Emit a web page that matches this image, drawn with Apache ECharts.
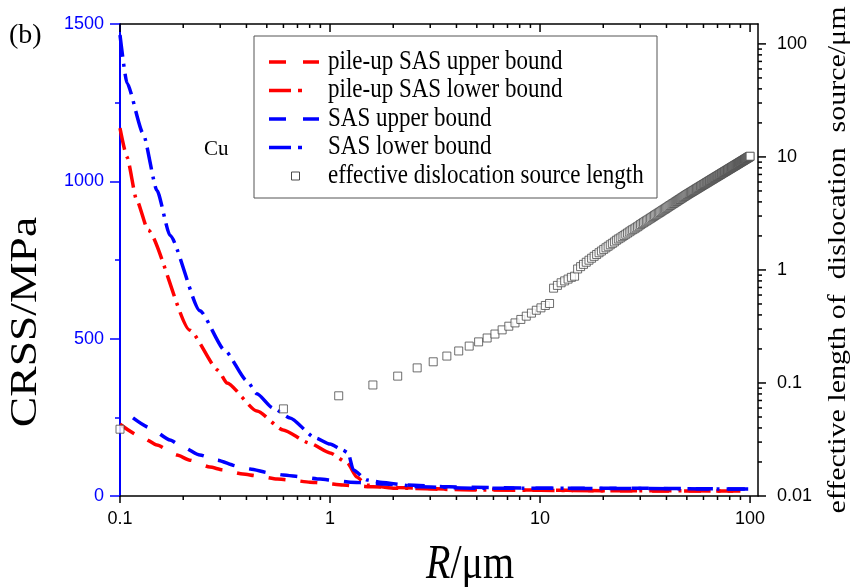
<!DOCTYPE html>
<html>
<head>
<meta charset="utf-8">
<script src="https://cdn.jsdelivr.net/npm/echarts@6/dist/echarts.min.js"></script>
<style>
  html, body { margin: 0; padding: 0; background: #fff; }
  #chart { width: 854px; height: 587px; }
</style>
</head>
<body>
<div id="chart"></div>
<script>
// CRSS (MPa) against R (µm) for Cu, four bounds
const pileUpUpperR    = [0.1, 0.127, 0.15, 0.187, 0.215, 0.268, 0.309, 0.385, 0.449, 0.56, 0.645, 0.802, 0.925, 1.15, 1.34, 1.6, 2.1, 3.7, 9.2, 20, 40, 90];
const pileUpUpperCRSS = [228, 187, 162, 130, 114, 92, 83, 70, 64, 54, 51, 44, 41, 35, 32, 29, 27, 22, 19, 17, 16, 16];

const pileUpLowerR    = [0.1, 0.108, 0.12, 0.136, 0.215, 0.293, 0.323, 0.449, 0.598, 0.8, 1.0, 1.21, 1.34, 1.5, 2.0, 5, 20, 90];
const pileUpLowerCRSS = [1169, 1077, 941, 845, 527, 400, 359, 270, 210, 168, 137, 105, 60, 35, 25, 19, 17, 16];

const sasUpperR    = [0.1153, 0.139, 0.173, 0.199, 0.24, 0.29, 0.361, 0.416, 0.518, 0.598, 0.744, 0.896, 1.08, 1.25, 1.55, 1.79, 2.3, 3.7, 9.2, 19, 96];
const sasUpperCRSS = [248, 216, 178, 156, 130, 114, 95, 86, 73, 67, 60, 54, 48, 44, 41, 38, 35, 29, 25, 25, 22];

const sasLowerR    = [0.1, 0.108, 0.1287, 0.15, 0.173, 0.24, 0.316, 0.402, 0.449, 0.534, 0.645, 0.85, 1.0, 1.15, 1.22, 1.29, 1.5, 1.73, 2.68, 5, 20, 98];
const sasLowerCRSS = [1465, 1312, 1153, 971, 828, 589, 462, 366, 325, 280, 248, 185, 165, 146, 137, 83, 51, 44, 29, 25, 24, 22];

// effective dislocation source length (µm) on the right-hand axis
const effR = [
  0.1, 0.6, 1.1, 1.6, 2.1, 2.6, 3.1, 3.6, 4.1, 4.6,
  5.1, 5.6, 6.1, 6.6, 7.1, 7.6, 8.1, 8.6, 9.1, 9.6,
  10.1, 10.6, 11.1, 11.6, 12.1, 12.6, 13.1, 13.6, 14.1, 14.6,
  15.1, 15.6, 16.1, 16.6, 17.1, 17.6, 18.1, 18.6, 19.1, 19.6,
  20.1, 20.6, 21.1, 21.6, 22.1, 22.6, 23.1, 23.6, 24.1, 24.6,
  25.1, 25.6, 26.1, 26.6, 27.1, 27.6, 28.1, 28.6, 29.1, 29.6,
  30.1, 30.6, 31.1, 31.6, 32.1, 32.6, 33.1, 33.6, 34.1, 34.6,
  35.1, 35.6, 36.1, 36.6, 37.1, 37.6, 38.1, 38.6, 39.1, 39.6,
  40.1, 40.6, 41.1, 41.6, 42.1, 42.6, 43.1, 43.6, 44.1, 44.6,
  45.1, 45.6, 46.1, 46.6, 47.1, 47.6, 48.1, 48.6, 49.1, 49.6,
  50.1, 50.6, 51.1, 51.6, 52.1, 52.6, 53.1, 53.6, 54.1, 54.6,
  55.1, 55.6, 56.1, 56.6, 57.1, 57.6, 58.1, 58.6, 59.1, 59.6,
  60.1, 60.6, 61.1, 61.6, 62.1, 62.6, 63.1, 63.6, 64.1, 64.6,
  65.1, 65.6, 66.1, 66.6, 67.1, 67.6, 68.1, 68.6, 69.1, 69.6,
  70.1, 70.6, 71.1, 71.6, 72.1, 72.6, 73.1, 73.6, 74.1, 74.6,
  75.1, 75.6, 76.1, 76.6, 77.1, 77.6, 78.1, 78.6, 79.1, 79.6,
  80.1, 80.6, 81.1, 81.6, 82.1, 82.6, 83.1, 83.6, 84.1, 84.6,
  85.1, 85.6, 86.1, 86.6, 87.1, 87.6, 88.1, 88.6, 89.1, 89.6,
  90.1, 90.6, 91.1, 91.6, 92.1, 92.6, 93.1, 93.6, 94.1, 94.6,
  95.1, 95.6, 96.1, 96.6, 97.1, 97.6, 98.1, 98.6, 99.1, 99.6,
  100.1
];
const effL = [
  0.039, 0.059, 0.077, 0.096, 0.115, 0.136, 0.154, 0.173, 0.192, 0.212,
  0.231, 0.250, 0.271, 0.295, 0.318, 0.340, 0.365, 0.390, 0.415, 0.440,
  0.462, 0.485, 0.505, 0.690, 0.730, 0.770, 0.800, 0.830, 0.860, 0.880,
  1.02, 1.07, 1.12, 1.17, 1.22, 1.27, 1.32, 1.37, 1.42, 1.47,
  1.52, 1.57, 1.62, 1.67, 1.72, 1.77, 1.83, 1.88, 1.92, 1.97,
  2.02, 2.07, 2.12, 2.17, 2.22, 2.27, 2.31, 2.36, 2.41, 2.46,
  2.52, 2.57, 2.62, 2.67, 2.72, 2.77, 2.82, 2.87, 2.92, 2.97,
  3.03, 3.08, 3.13, 3.18, 3.23, 3.28, 3.34, 3.39, 3.44, 3.49,
  3.55, 3.60, 3.66, 3.71, 3.76, 3.82, 3.87, 3.92, 3.98, 4.03,
  4.09, 4.14, 4.20, 4.25, 4.31, 4.36, 4.42, 4.47, 4.53, 4.58,
  4.64, 4.69, 4.74, 4.80, 4.85, 4.90, 4.95, 5.01, 5.06, 5.11,
  5.17, 5.22, 5.27, 5.33, 5.38, 5.43, 5.49, 5.54, 5.59, 5.65,
  5.70, 5.75, 5.81, 5.86, 5.92, 5.97, 6.02, 6.08, 6.13, 6.19,
  6.24, 6.30, 6.35, 6.40, 6.46, 6.51, 6.57, 6.62, 6.68, 6.73,
  6.78, 6.84, 6.89, 6.95, 7.00, 7.06, 7.11, 7.17, 7.22, 7.28,
  7.33, 7.39, 7.44, 7.50, 7.55, 7.61, 7.66, 7.72, 7.77, 7.83,
  7.89, 7.94, 8.00, 8.05, 8.11, 8.16, 8.22, 8.27, 8.33, 8.39,
  8.44, 8.50, 8.55, 8.61, 8.67, 8.72, 8.78, 8.84, 8.89, 8.95,
  9.01, 9.06, 9.12, 9.18, 9.23, 9.29, 9.35, 9.40, 9.46, 9.52,
  9.57, 9.63, 9.69, 9.75, 9.80, 9.86, 9.92, 9.98, 10.03, 10.09,
  10.15
];

// tick positions of the logarithmic axes
const xMajorTicks = [0.1, 1, 10, 100];
const xMinorTicks = [0.2, 0.3, 0.4, 0.5, 0.6, 0.7, 0.8, 0.9, 2, 3, 4, 5, 6, 7, 8, 9, 20, 30, 40, 50, 60, 70, 80, 90];
const lenMajorTicks = [0.01, 0.1, 1, 10, 100];
const lenMinorTicks = [0.02, 0.03, 0.04, 0.05, 0.06, 0.07, 0.08, 0.09, 0.2, 0.3, 0.4, 0.5, 0.6, 0.7, 0.8, 0.9,
                       2, 3, 4, 5, 6, 7, 8, 9, 20, 30, 40, 50, 60, 70, 80, 90];

const RED = '#ff0000';
const BLUE = '#0000ff';
const DASH = [17, 15];
const DASH_DOT = [22, 7, 3, 7];
const LINE_W = 3.5;
const SQUARE_EDGE = '#4a4a4a';
const SERIF = 'Liberation Serif';
const SANS = 'Liberation Sans';

const pairs = (xs, ys) => xs.map((x, i) => [x, ys[i]]);

function decadeLabel(v) {
  const e = Math.log10(v);
  return Math.abs(e - Math.round(e)) < 1e-6 ? String(Number(v.toPrecision(6))) : '';
}

function curve(name, xs, ys, color, dash) {
  return {
    name, type: 'line', xAxisIndex: 0, yAxisIndex: 0,
    data: pairs(xs, ys),
    symbol: 'none', smooth: 0.2, smoothMonotone: 'x',
    lineStyle: { color, width: LINE_W, type: dash, cap: 'butt' },
    itemStyle: { color },
    z: 3, silent: true
  };
}

function xTickRender(params, api) {
  const cs = params.coordSys;
  const x = api.coord([api.value(0), 0])[0];
  const major = api.value(1) === 1;
  const bottom = cs.y + cs.height;
  const down = major ? 7 : 4;
  const inTop = major ? 8 : 4;
  return {
    type: 'group',
    children: [
      { type: 'line', shape: { x1: x, y1: bottom, x2: x, y2: bottom + down }, style: { stroke: '#000', lineWidth: 1.5 } },
      { type: 'line', shape: { x1: x, y1: cs.y, x2: x, y2: cs.y + inTop }, style: { stroke: '#000', lineWidth: 1.5 } }
    ]
  };
}

function yTickRender(params, api) {
  const cs = params.coordSys;
  const y = api.coord([1, api.value(1)])[1];
  const major = api.value(2) === 1;
  const right = cs.x + cs.width;
  return {
    type: 'line',
    shape: { x1: right, y1: y, x2: right + (major ? 8 : 4), y2: y },
    style: { stroke: '#000', lineWidth: 1.5 }
  };
}

const xTickData = xMajorTicks.map(v => [v, 1]).concat(xMinorTicks.map(v => [v, 0]));
const lenTickData = lenMajorTicks.map(v => [1, v, 1]).concat(lenMinorTicks.map(v => [1, v, 0]));

// key box: sample strokes and captions
const keyRows = [
  { text: 'pile-up SAS upper bound', color: RED, dash: [17, 17], x2: 319 },
  { text: 'pile-up SAS lower bound', color: RED, dash: [22, 7, 4, 20], x2: 302 },
  { text: 'SAS upper bound', color: BLUE, dash: [17, 17], x2: 319 },
  { text: 'SAS lower bound', color: BLUE, dash: [22, 7, 4, 20], x2: 302 },
  { text: 'effective dislocation source length', square: true }
];
const keyGraphics = [
  { type: 'rect', shape: { x: 254, y: 36, width: 403, height: 162 }, style: { fill: '#fff', stroke: '#555', lineWidth: 1 }, silent: true, z: 10 }
];
keyRows.forEach((row, i) => {
  const y = 62 + i * 28.5;
  if (row.square) {
    keyGraphics.push({ type: 'rect', shape: { x: 291.5, y: y - 4, width: 8, height: 8 }, style: { fill: '#fff', stroke: SQUARE_EDGE, lineWidth: 1 }, silent: true, z: 11 });
  } else {
    keyGraphics.push({ type: 'line', shape: { x1: 269, y1: y, x2: row.x2, y2: y }, style: { stroke: row.color, lineWidth: LINE_W, lineDash: row.dash, lineCap: 'butt' }, silent: true, z: 11 });
  }
  keyGraphics.push({ type: 'text', x: 328, y: y, scaleY: 1.15, style: { text: row.text, fontFamily: SERIF, fontSize: 23, fill: '#000', verticalAlign: 'middle', align: 'left' }, silent: true, z: 11 });
});

// axis titles and panel annotations
const titleGraphics = [
  { type: 'text', x: 26, y: 322, rotation: Math.PI / 2, scaleX: 1.2,
    style: { text: 'CRSS/MPa', fontFamily: SERIF, fontSize: 38, fill: '#000', align: 'center', verticalAlign: 'middle' }, silent: true },
  { type: 'text', x: 838, y: 260, rotation: Math.PI / 2, scaleX: 1.2,
    style: { text: 'effective length of  dislocation  source/μm', fontFamily: SERIF, fontSize: 25, fill: '#000', align: 'center', verticalAlign: 'middle' }, silent: true },
  { type: 'text', x: 470, y: 565, scaleY: 1.2,
    style: { text: '{i|R}/μm', fontFamily: SERIF, fontSize: 40, fill: '#000', align: 'center', verticalAlign: 'middle',
             rich: { i: { fontFamily: SERIF, fontStyle: 'italic', fontSize: 40, fill: '#000' } } }, silent: true },
  { type: 'text', left: 9, top: 22, style: { text: '(b)', fontFamily: SERIF, fontSize: 28, fill: '#000' }, silent: true },
  { type: 'text', left: 204, top: 139, style: { text: 'Cu', fontFamily: SERIF, fontSize: 21, fill: '#000' }, silent: true }
];

const chart = echarts.init(document.getElementById('chart'), null, { renderer: 'canvas' });
chart.setOption({
  animation: false,
  backgroundColor: '#fff',
  grid: { left: 120, right: 96, top: 24, bottom: 91, containLabel: false, outerBoundsMode: 'none' },
  xAxis: [
    {
      type: 'log', logBase: 10, min: 0.1, max: 109.1, position: 'bottom',
      axisLine: { show: true, onZero: false, lineStyle: { color: '#000', width: 1.5 } },
      axisTick: { show: false }, minorTick: { show: false }, splitLine: { show: false },
      axisLabel: { formatter: decadeLabel, color: '#000', fontFamily: SANS, fontSize: 18, margin: 14 }
    },
    {
      type: 'log', logBase: 10, min: 0.1, max: 109.1, position: 'top',
      axisLine: { show: true, onZero: false, lineStyle: { color: '#000', width: 1.5 } },
      axisTick: { show: false }, axisLabel: { show: false }, splitLine: { show: false }
    }
  ],
  yAxis: [
    {
      type: 'value', min: 0, max: 1500, interval: 500, position: 'left',
      axisLine: { show: true, lineStyle: { color: BLUE, width: 2 } },
      axisTick: { show: true, inside: false, length: 10, lineStyle: { color: BLUE, width: 1.5 } },
      minorTick: { show: true, splitNumber: 2, length: 5, lineStyle: { color: BLUE, width: 1.5 } },
      splitLine: { show: false },
      axisLabel: { color: BLUE, fontFamily: SANS, fontSize: 18, margin: 16, formatter: v => String(v) }
    },
    {
      type: 'log', logBase: 10, min: 0.01, max: 150, position: 'right',
      axisLine: { show: true, lineStyle: { color: '#000', width: 1.5 } },
      axisTick: { show: false }, splitLine: { show: false },
      axisLabel: { formatter: decadeLabel, color: '#000', fontFamily: SANS, fontSize: 18, margin: 19 }
    }
  ],
  graphic: titleGraphics.concat(keyGraphics),
  series: [
    curve('pile-up SAS upper bound', pileUpUpperR, pileUpUpperCRSS, RED, DASH),
    curve('pile-up SAS lower bound', pileUpLowerR, pileUpLowerCRSS, RED, DASH_DOT),
    curve('SAS upper bound', sasUpperR, sasUpperCRSS, BLUE, DASH),
    curve('SAS lower bound', sasLowerR, sasLowerCRSS, BLUE, DASH_DOT),
    {
      name: 'effective dislocation source length', type: 'scatter', xAxisIndex: 0, yAxisIndex: 1,
      data: pairs(effR, effL),
      symbol: 'rect', symbolSize: 8,
      itemStyle: { color: '#fff', borderColor: SQUARE_EDGE, borderWidth: 1 },
      z: 4, silent: true
    },
    {
      type: 'custom', xAxisIndex: 0, yAxisIndex: 0, silent: true, clip: false, z: 5,
      dimensions: ['x', 'major'], encode: { x: 0, y: 1 },
      data: xTickData, renderItem: xTickRender
    },
    {
      type: 'custom', xAxisIndex: 0, yAxisIndex: 1, silent: true, clip: false, z: 5,
      dimensions: ['x', 'y', 'major'], encode: { x: 0, y: 1 },
      data: lenTickData, renderItem: yTickRender
    }
  ]
});
</script>
</body>
</html>
